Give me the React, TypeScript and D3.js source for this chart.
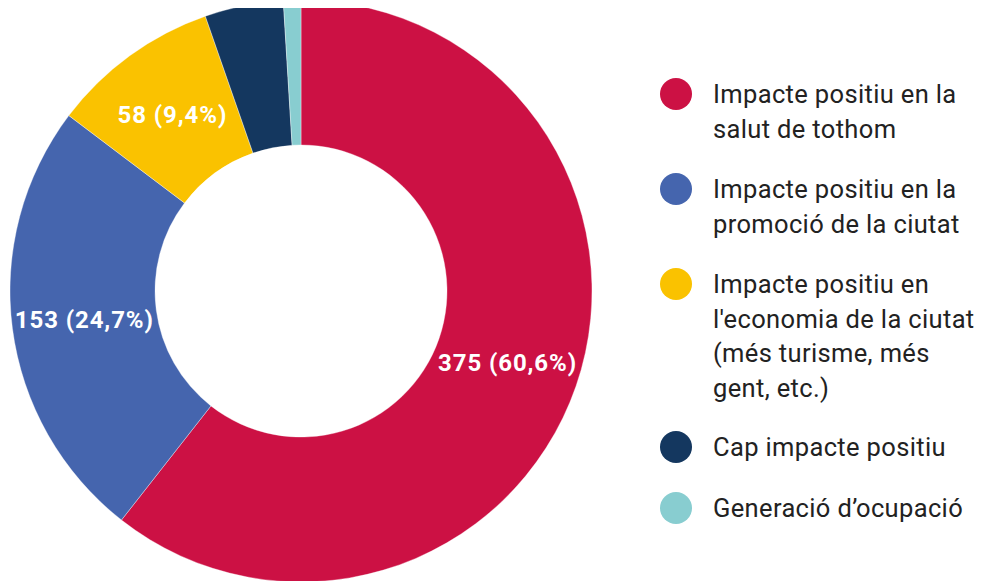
import React from "react";
import * as d3 from "d3";

const categories = [
  "Impacte positiu en la salut de tothom",
  "Impacte positiu en la promoció de la ciutat",
  "Impacte positiu en l'economia de la ciutat (més turisme, més gent, etc.)",
  "Cap impacte positiu",
  "Generació d’ocupació",
];
const values = [375, 153, 58, 27, 6];
const sliceLabels = ["375 (60,6%)", "153 (24,7%)", "58 (9,4%)", "", ""];
const legendLines = [
  ["Impacte positiu en la", "salut de tothom"],
  ["Impacte positiu en la", "promoció de la ciutat"],
  ["Impacte positiu en", "l'economia de la ciutat", "(més turisme, més", "gent, etc.)"],
  ["Cap impacte positiu"],
  ["Generació d’ocupació"],
];
const colors = ["#CC1144", "#4565AE", "#FAC200", "#14375F", "#88CDD0"];

export default function App() {
  const W = 981, H = 581;
  const cx = 301, cy = 291, rOuter = 291, rInner = 146;
  const data = categories.map((c, i) => ({ c, v: values[i], i }));
  const pie = d3.pie<any>().value((d) => d.v).sort(null);
  const arcs = pie(data);
  const arc = d3.arc<any>().innerRadius(rInner).outerRadius(rOuter);
  const legendY = [94, 189, 284, 447, 508];
  const lineH = 34.5;
  return (
    <svg width={W} height={H} style={{ position: "absolute", left: 0, top: 0, background: "#fff" }}>
      <defs>
        <clipPath id="clipTop">
          <rect x={0} y={8} width={W} height={H} />
        </clipPath>
      </defs>
      <g clipPath="url(#clipTop)">
        <g transform={`translate(${cx},${cy})`}>
          {arcs.map((a, i) => (
            <path key={i} d={arc(a) || ""} fill={colors[i]} stroke="#fff" strokeWidth={0.6} strokeOpacity={0.6} />
          ))}
        </g>
      </g>
      <g transform={`translate(${cx},${cy})`}>
        {arcs.map((a, i) => {
          if (!sliceLabels[i]) return null;
          const [x, y] = arc.centroid(a);
          return (
            <text key={i} x={x} y={y} dy="0.36em" textAnchor="middle" fill="#fff"
              style={{ fontFamily: "Roboto, sans-serif", fontWeight: 700, fontSize: 24, letterSpacing: 0.9 }}>
              {sliceLabels[i]}
            </text>
          );
        })}
      </g>
      <g>
        {legendLines.map((lines, i) => (
          <g key={i}>
            <circle cx={676} cy={legendY[i]} r={16} fill={colors[i]} />
            {lines.map((ln, j) => (
              <text key={j} x={713} y={legendY[i] + j * lineH} dy="0.36em" fill="#222"
                style={{ fontFamily: "Roboto, sans-serif", fontSize: 25.5, letterSpacing: 0.35 }}>
                {ln}
              </text>
            ))}
          </g>
        ))}
      </g>
    </svg>
  );
}
